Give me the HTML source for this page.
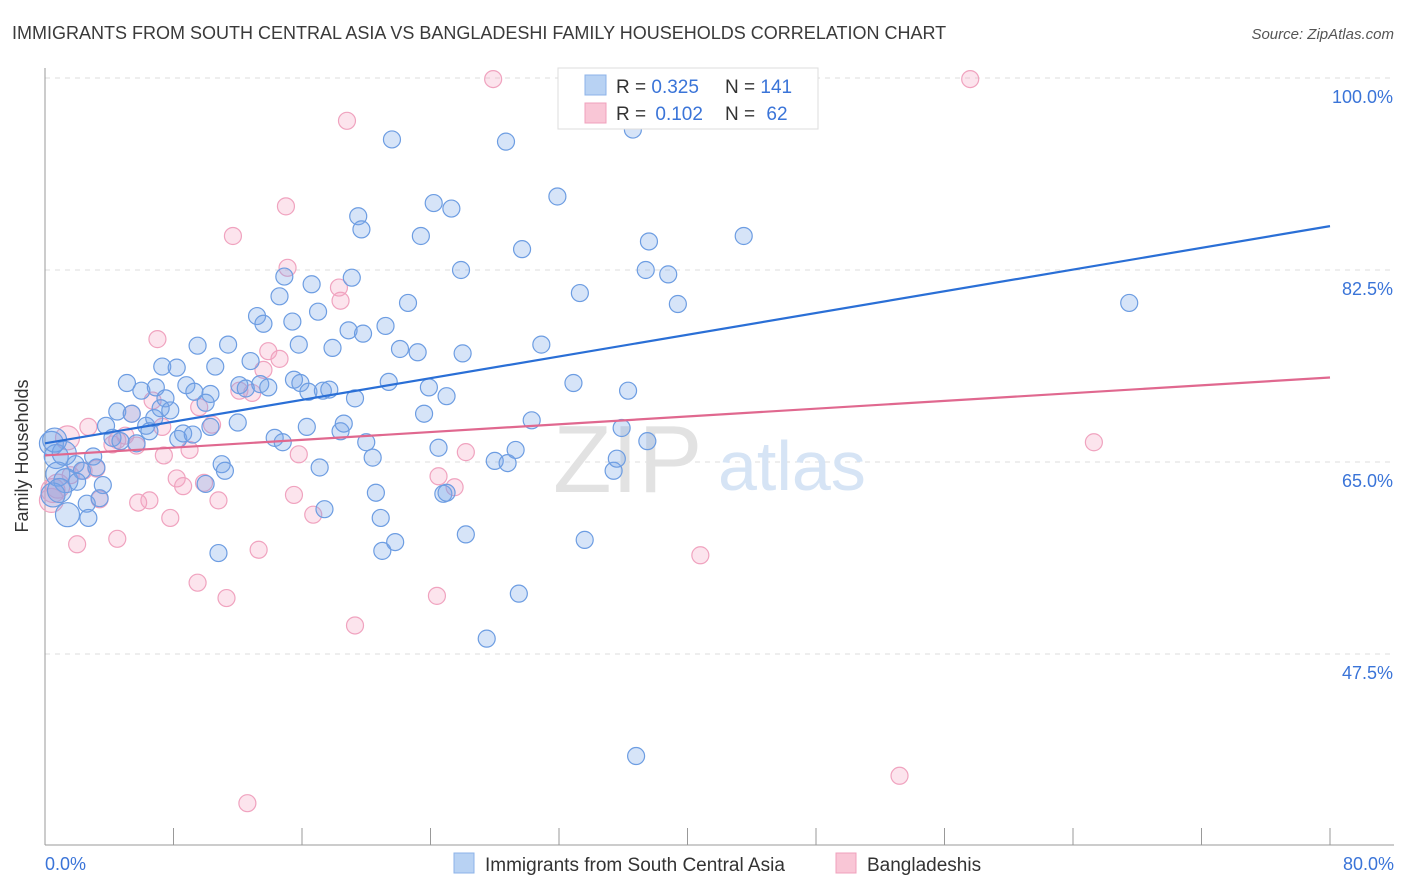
<!DOCTYPE html>
<html><head><meta charset="utf-8">
<style>
body{margin:0;background:#fff;font-family:"Liberation Sans",sans-serif;}
#wrap{position:relative;width:1406px;height:892px;overflow:hidden;}
svg text{font-family:"Liberation Sans",sans-serif;}
</style></head>
<body>
<div id="wrap">
<svg id="chart" width="1406" height="892">
  <text x="12" y="39" font-size="18" fill="#3a3a3a">IMMIGRANTS FROM SOUTH CENTRAL ASIA VS BANGLADESHI FAMILY HOUSEHOLDS CORRELATION CHART</text>
  <text x="1394" y="39" font-size="15" fill="#555" font-style="italic" text-anchor="end">Source: ZipAtlas.com</text>
  <g id="grid"></g>
  <g id="axes"></g>
  <text x="553" y="492" font-size="96" fill="#e2e2e2" font-family="Liberation Serif">ZIP</text>
  <text x="718" y="490" font-size="70" fill="#d6e4f5">atlas</text>
  <g id="pink"></g>
  <g id="blue"></g>
  <g id="lines"></g>
  <text x="28" y="456" font-size="18" fill="#333" text-anchor="middle" transform="rotate(-90 28 456)">Family Households</text>
  <text x="45" y="870" font-size="18" fill="#3a74d8">0.0%</text>
  <text x="1394" y="870" font-size="18" fill="#3a74d8" text-anchor="end">80.0%</text>
  <g>
    <rect x="558" y="68" width="260" height="61" fill="#fff" stroke="#ddd"/>
    <rect x="585" y="75" width="21" height="20" fill="#b8d2f3" stroke="#8cb3e8"/>
    <rect x="585" y="103" width="21" height="20" fill="#f9c6d6" stroke="#f0a0bc"/>
    <text x="616" y="93" font-size="19" fill="#333">R = <tspan fill="#3a74d8">0.325</tspan></text>
    <text x="725" y="93" font-size="19" fill="#333">N = <tspan fill="#3a74d8">141</tspan></text>
    <text x="616" y="120" font-size="19" fill="#333">R = <tspan fill="#3a74d8" dx="4">0.102</tspan></text>
    <text x="725" y="120" font-size="19" fill="#333">N = <tspan fill="#3a74d8" dx="6">62</tspan></text>
  </g>
  <g>
    <rect x="454" y="853" width="20" height="20" fill="#b8d2f3" stroke="#8cb3e8"/>
    <text x="485" y="871" font-size="19" fill="#333">Immigrants from South Central Asia</text>
    <rect x="836" y="853" width="20" height="20" fill="#f9c6d6" stroke="#f0a0bc"/>
    <text x="867" y="871" font-size="19" fill="#333">Bangladeshis</text>
  </g>
</svg>
</div>
<script>
const yTicks=[100,82.5,65,47.5];
const yTickLabels=["100.0%","82.5%","65.0%","47.5%"];
const xTickVals=[0,8,16,24,32,40,48,56,64,72,80];
const blueX=[21.6,28.7,36.6,41.7,31.9,24.2,25.3,19.5,19.7,23.4,29.7,37.6,43.5,25.9,19.1,14.9,16.6,37.4,38.8,33.3,39.4,67.5,22.6,14.6,17.0,13.2,13.6,15.4,18.9,19.8,21.2,17.9,15.8,11.4,9.5,22.1,23.2,26.0,30.9,7.3,8.2,10.6,12.8,5.1,6.0,6.9,7.5,8.8,9.3,10.3,12.1,12.5,13.4,13.9,15.5,15.9,16.4,17.3,17.7,19.3,21.4,23.9,25.0,32.9,36.3,4.5,5.4,6.3,6.8,7.2,7.8,10.0,12.0,3.8,4.2,4.7,5.7,6.5,8.3,8.6,9.2,10.3,14.3,14.8,16.3,18.4,18.6,20.0,20.4,23.6,24.5,30.3,35.9,37.5,0.4,0.7,1.2,1.9,2.3,3.0,3.2,0.8,1.3,2.0,3.6,2.6,3.4,1.4,2.7,0.5,11.0,11.2,10.0,17.1,20.6,20.9,24.8,25.0,28.0,28.8,29.3,35.4,35.6,17.4,10.8,21.0,21.8,26.2,33.6,29.5,27.5,36.8,0.6,0.9];
const blueY=[94.4,94.2,95.3,96.9,89.2,88.6,88.1,87.4,86.2,85.6,84.4,85.1,85.6,82.5,81.8,81.9,81.2,82.5,82.1,80.4,79.4,79.5,79.5,80.1,78.7,78.3,77.6,77.8,77.0,76.7,77.4,75.4,75.7,75.7,75.6,75.3,75.0,74.9,75.7,73.7,73.6,73.7,74.2,72.2,71.5,71.8,70.8,72.0,71.4,71.2,72.0,71.7,72.1,71.8,72.5,72.2,71.4,71.5,71.6,70.8,72.3,71.8,71.0,72.2,71.5,69.6,69.4,68.3,69.0,69.9,69.7,70.4,68.6,68.3,67.2,66.9,66.7,67.8,67.1,67.6,67.5,68.2,67.2,66.8,68.2,67.8,68.5,66.8,65.4,69.4,66.3,68.8,68.1,66.9,66.7,65.5,65.8,64.8,64.2,65.5,64.5,63.9,63.3,63.2,62.9,61.2,61.7,60.2,59.9,62.0,64.8,64.2,63.0,64.5,62.2,59.9,62.1,62.2,65.1,64.9,66.1,64.2,65.3,60.7,56.7,56.9,57.7,58.4,57.9,53.0,48.9,38.2,67.0,62.4];
const pinkX=[27.9,57.6,18.8,15.0,11.7,15.1,18.3,18.4,7.0,13.9,14.6,13.6,12.1,6.7,9.6,12.9,5.4,10.4,7.3,2.7,1.4,4.2,5.0,5.7,7.4,9.0,15.8,26.2,65.3,3.2,8.2,9.9,8.6,24.5,25.5,15.5,6.5,5.8,10.8,3.4,16.7,7.8,2.0,4.5,13.3,9.5,11.3,24.4,19.3,40.8,53.2,12.6,0.5,0.4,0.8,1.6,2.4,4.5];
const pinkY=[99.9,99.9,96.1,88.3,85.6,82.7,80.9,79.7,76.2,75.1,74.4,73.4,71.5,70.6,70.0,71.3,69.4,68.4,68.2,68.2,67.2,66.6,67.4,66.5,65.6,66.1,65.7,65.9,66.8,64.4,63.5,63.1,62.8,63.7,62.7,62.0,61.5,61.3,61.5,61.6,60.2,59.9,57.5,58.0,57.0,54.0,52.6,52.8,50.1,56.5,36.4,33.9,62.4,61.5,62.8,63.8,64.2,67.0];
const blueTrend=[66.7,86.5];
const pinkTrend=[65.6,72.7];

const X0=45,X1=1330,Y100=78,PXPER=192/17.5;
function sx(v){return X0+(X1-X0)*v/80;}
function sy(v){return Y100+(100-v)*PXPER;}
const NS="http://www.w3.org/2000/svg";
function mk(t,a,p){const e=document.createElementNS(NS,t);for(const k in a)e.setAttribute(k,a[k]);p.appendChild(e);return e;}
const grid=document.getElementById('grid'),axes=document.getElementById('axes');
yTicks.forEach((v,i)=>{
  const l=mk('line',{x1:X0,x2:1394,y1:sy(v),y2:sy(v),stroke:'#dcdcdc','stroke-dasharray':'5,5'},grid);
  
  
  const t=mk('text',{x:1393,y:sy(v)+25,'font-size':18,fill:'#3a74d8','text-anchor':'end'},axes);
  t.textContent=yTickLabels[i];
  
  
});
const ax=mk('line',{x1:X0,x2:1394,y1:845,y2:845,stroke:'#999'},axes);


const ay=mk('line',{x1:X0,x2:X0,y1:68,y2:845,stroke:'#999'},axes);


xTickVals.forEach(v=>{
  const t=mk('line',{x1:sx(v),x2:sx(v),y1:828,y2:845,stroke:'#999'},axes);
  
  
});
function pts(xs,ys,g,fill,stroke,name){
  xs.forEach((x,i)=>{
    const r=(x<1.5)?12:8.5;
    const c=mk('circle',{cx:sx(x),cy:sy(ys[i]),r:r,fill:fill,stroke:stroke,'stroke-width':1.2},g);
    
    
  });
}
pts(pinkX,pinkY,document.getElementById('pink'),'rgba(244,166,194,0.3)','#f0a3bf','bangladeshi-point');
pts(blueX,blueY,document.getElementById('blue'),'rgba(120,165,232,0.3)','#6d9de2','south-central-asia-point');
const lg=document.getElementById('lines');
const bl=mk('line',{x1:sx(0),y1:sy(blueTrend[0]),x2:sx(80),y2:sy(blueTrend[1]),stroke:'#2a6fd6','stroke-width':2.2},lg);


const pl=mk('line',{x1:sx(0),y1:sy(pinkTrend[0]),x2:sx(80),y2:sy(pinkTrend[1]),stroke:'#e0688f','stroke-width':2.2},lg);


</script>
</body></html>
